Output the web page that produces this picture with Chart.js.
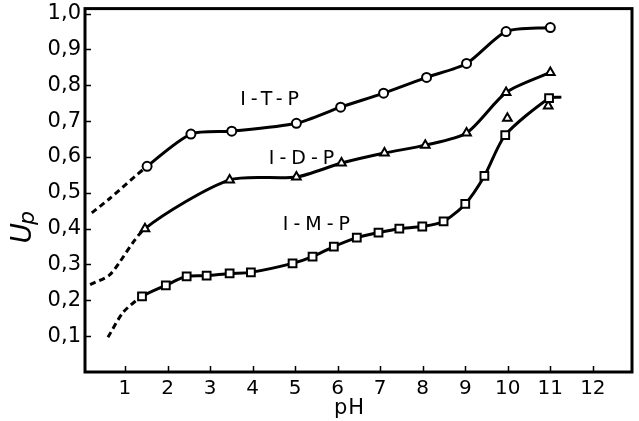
<!DOCTYPE html>
<html><head><meta charset="utf-8">
<script src="https://cdn.jsdelivr.net/npm/chart.js@4.4.1/dist/chart.umd.min.js"></script>
<style>html,body{margin:0;padding:0;background:#fff;}</style>
</head><body>
<canvas id="c" width="639" height="421"></canvas>
<script>
// ---- data ----
const xTickValues = [1,2,3,4,5,6,7,8,9,10,11,12];
const yTickValues = [0.1,0.2,0.3,0.4,0.5,0.6,0.7,0.8,0.9,1.0];
const yTickLabels = ['0,1','0,2','0,3','0,4','0,5','0,6','0,7','0,8','0,9','1,0'];

// I-T-P (circles)
const itpLeadX = [0.22, 0.62];
const itpLeadY = [0.444, 0.482];
const itpX = [1.52, 2.55, 3.51, 5.03, 6.07, 7.08, 8.09, 9.03, 9.96, 11.0];
const itpY = [0.574, 0.664, 0.672, 0.694, 0.739, 0.778, 0.822, 0.861, 0.950, 0.961];

// I-D-P (triangles)
const idpLeadX = [0.18, 0.65];
const idpLeadY = [0.244, 0.272];
const idpX = [1.47, 3.46, 5.03, 6.09, 7.10, 8.06, 9.03, 9.96, 11.0];
const idpY = [0.400, 0.536, 0.544, 0.583, 0.611, 0.633, 0.667, 0.780, 0.836];
const idpExtraX = [9.99, 10.95];
const idpExtraY = [0.708, 0.742];

// I-M-P (squares)
const impLeadX = [0.60, 0.96];
const impLeadY = [0.097, 0.167];
const impX = [1.40, 1.96, 2.45, 2.92, 3.46, 3.96, 4.94, 5.41, 5.91, 6.45, 6.96, 7.45, 7.99, 8.49, 9.00, 9.45, 9.94, 10.97];
const impY = [0.211, 0.242, 0.267, 0.269, 0.275, 0.278, 0.303, 0.322, 0.350, 0.375, 0.389, 0.400, 0.406, 0.420, 0.469, 0.547, 0.661, 0.764];
const impTailX = [11.26];
const impTailY = [0.767];

const curveLabels = ['I-T-P', 'I-D-P', 'I-M-P'];
const xTitle = 'pH';
const yTitleMain = 'U';
const yTitleSub = 'p';

// ---- build datasets ----
function pts(xs, ys, m){ return xs.map((x,i)=>({x:x, y:ys[i], m:m})); }
function curve(leadX, leadY, xs, ys, tailX, tailY, style, r){
  const data = pts(leadX, leadY, false).concat(pts(xs, ys, true)).concat(pts(tailX||[], tailY||[], false));
  const lead = leadX.length;
  return {
    data: data,
    showLine: true,
    borderColor: '#000',
    borderWidth: 3,
    tension: 0.25,
    pointStyle: style,
    pointRadius: c => (c.raw && c.raw.m) ? r : 0,
    pointHoverRadius: c => (c.raw && c.raw.m) ? r : 0,
    pointBackgroundColor: '#fff',
    pointBorderColor: '#000',
    pointBorderWidth: 2,
    segment: { borderDash: s => s.p0DataIndex < lead ? [6,4] : undefined }
  };
}

const datasets = [
  curve(itpLeadX, itpLeadY, itpX, itpY, null, null, 'circle', 4.5),
  curve(idpLeadX, idpLeadY, idpX, idpY, null, null, 'triangle', 5),
  curve(impLeadX, impLeadY, impX, impY, impTailX, impTailY, 'rect', 5.5),
  {
    data: pts(idpExtraX, idpExtraY, true),
    showLine: false,
    pointStyle: 'triangle',
    pointRadius: 5,
    pointBackgroundColor: '#fff',
    pointBorderColor: '#000',
    pointBorderWidth: 2
  }
];

const labelPos = [[4.4, 0.758], [5.15, 0.594], [5.5, 0.411]];

const decor = {
  id: 'decor',
  afterDatasetsDraw(chart){
    const ctx = chart.ctx, a = chart.chartArea;
    const xs = chart.scales.x, ys = chart.scales.y;
    ctx.save();
    ctx.strokeStyle = '#000';
    // inward ticks
    ctx.lineWidth = 1.5;
    ctx.beginPath();
    yTickValues.forEach(v => { const py = Math.round(ys.getPixelForValue(v)) + 0.5; ctx.moveTo(a.left, py); ctx.lineTo(a.left + 6, py); });
    xTickValues.forEach(v => { const px = Math.round(xs.getPixelForValue(v)) + 0.5; ctx.moveTo(px, a.bottom); ctx.lineTo(px, a.bottom - 6); });
    ctx.stroke();
    // frame
    ctx.lineWidth = 3;
    ctx.strokeRect(a.left, a.top, a.right - a.left, a.bottom - a.top);
    // curve labels
    ctx.fillStyle = '#000';
    ctx.font = '19px "DejaVu Sans"';
    ctx.letterSpacing = '5px';
    ctx.textAlign = 'center';
    ctx.textBaseline = 'middle';
    curveLabels.forEach((t, i) => {
      ctx.fillText(t, xs.getPixelForValue(labelPos[i][0]) + 2.5, ys.getPixelForValue(labelPos[i][1]));
    });
    ctx.letterSpacing = '1px';
    // x title
    ctx.font = '21px "DejaVu Sans"';
    ctx.fillText(xTitle, xs.getPixelForValue(6.28), 409);
    ctx.letterSpacing = '0px';
    // y title, rotated
    ctx.translate(24, 226);
    ctx.rotate(-Math.PI/2);
    ctx.font = 'italic 28px "DejaVu Sans"';
    ctx.textAlign = 'right';
    ctx.fillText(yTitleMain, 3, 0);
    ctx.textAlign = 'left';
    ctx.font = 'italic 22px "DejaVu Sans"';
    ctx.fillText(yTitleSub, 1, 4);
    ctx.restore();
  }
};

new Chart(document.getElementById('c'), {
  type: 'scatter',
  data: { datasets: datasets },
  options: {
    responsive: false,
    animation: false,
    devicePixelRatio: 1,
    layout: { padding: { top: 8, right: 6, left: 0, bottom: 0 } },
    plugins: { legend: { display: false }, tooltip: { enabled: false } },
    scales: {
      x: {
        type: 'linear', min: 0.06, max: 12.92,
        grid: { display: false }, border: { display: false },
        afterBuildTicks: s => { s.ticks = xTickValues.map(v => ({ value: v })); },
        afterFit: s => { s.height = 49; },
        ticks: { color: '#000', font: { family: 'DejaVu Sans', size: 20 }, padding: -3, maxRotation: 0, autoSkip: false }
      },
      y: {
        type: 'linear', min: 0, max: 1.014,
        grid: { display: false }, border: { display: false },
        afterBuildTicks: s => { s.ticks = yTickValues.map(v => ({ value: v })); },
        afterFit: s => { s.width = 85; },
        ticks: { color: '#000', font: { family: 'DejaVu Sans', size: 21 }, padding: -4, autoSkip: false,
          callback: (v) => { const i = yTickValues.findIndex(t => Math.abs(t - v) < 1e-6); return i >= 0 ? yTickLabels[i] : ''; } }
      }
    }
  },
  plugins: [decor]
});
</script>
</body></html>
